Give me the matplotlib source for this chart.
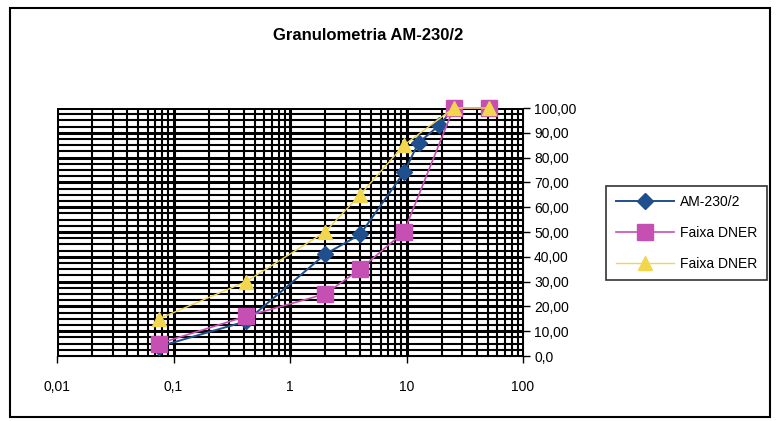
import matplotlib
matplotlib.use("Agg")
import matplotlib.pyplot as plt
from matplotlib.patches import Rectangle
from matplotlib.ticker import FixedLocator, NullFormatter

plt.rcParams['font.family'] = ['Liberation Sans', 'DejaVu Sans']

title = "Granulometria AM-230/2"

am_x = [0.075, 0.42, 2.0, 4.0, 9.5, 12.7, 19.1, 25.4]
am_y = [3.8, 14.0, 41.0, 49.0, 74.0, 86.0, 93.0, 100.0]

lo_x = [0.075, 0.42, 2.0, 4.0, 9.5, 25.4, 50.8]
lo_y = [5.0, 16.0, 25.0, 35.0, 50.0, 100.0, 100.0]

hi_x = [0.075, 0.42, 2.0, 4.0, 9.5, 25.4, 50.8]
hi_y = [15.0, 30.0, 50.0, 65.0, 85.0, 100.0, 100.0]

series_names = ["AM-230/2", "Faixa DNER", "Faixa DNER"]

x_ticks = [0.01, 0.1, 1, 10, 100]
x_labels = ["0,01", "0,1", "1", "10", "100"]
y_ticks = [0, 10, 20, 30, 40, 50, 60, 70, 80, 90, 100]
y_labels = ["0,0", "10,00", "20,00", "30,00", "40,00", "50,00",
            "60,00", "70,00", "80,00", "90,00", "100,00"]

fig = plt.figure(figsize=(7.76, 4.21), dpi=100)
fig.patches.append(Rectangle((10/776, 1-417/421), 760/776, 409/421,
                             transform=fig.transFigure, fill=False,
                             edgecolor='black', linewidth=1.5))

ax = fig.add_axes([57/776, 1-356/421, 466/776, 248/421])
ax.set_xscale('log')
ax.set_xlim(0.01, 100)
ax.set_ylim(0, 100)

ax.xaxis.set_major_locator(FixedLocator(x_ticks))
ax.set_xticklabels(x_labels, fontsize=10)
minor_x = [m * 10.0**e for e in range(-2, 2) for m in range(2, 10)]
ax.xaxis.set_minor_locator(FixedLocator(minor_x))
ax.xaxis.set_minor_formatter(NullFormatter())

ax.yaxis.set_major_locator(FixedLocator(y_ticks))
ax.set_yticklabels(y_labels, fontsize=10)
ax.yaxis.set_minor_locator(FixedLocator([v * 2.5 for v in range(41)]))
ax.yaxis.tick_right()

ax.grid(True, which='major', color='black', linewidth=2.2)
ax.grid(True, which='minor', color='black', linewidth=1.5)
ax.set_axisbelow(True)

for s in ['top', 'left']:
    ax.spines[s].set_visible(False)
ax.spines['right'].set_color('black')
ax.spines['bottom'].set_color('black')

ax.tick_params(axis='y', which='major', direction='out', length=5, width=1, pad=3)
ax.tick_params(axis='y', which='minor', length=0)
ax.tick_params(axis='x', which='major', direction='out', length=5, width=1, pad=12)
ax.tick_params(axis='x', which='minor', length=0)

ax.plot(am_x, am_y, color='#1f4f8c', linewidth=1.4, marker='D', markersize=8.5,
        markerfacecolor='#1f4f8c', markeredgecolor='#1f4f8c',
        label=series_names[0], clip_on=False, zorder=3)
ax.plot(lo_x, lo_y, color='#c64fb4', linewidth=1.2, marker='s', markersize=11,
        markerfacecolor='#c64fb4', markeredgecolor='#c64fb4',
        label=series_names[1], clip_on=False, zorder=4)
ax.plot(hi_x, hi_y, color='#f2d64e', linewidth=1.0, marker='^', markersize=10,
        markerfacecolor='#f2d64e', markeredgecolor='#f2d64e',
        label=series_names[2], clip_on=False, zorder=5)

fig.text(0.475, 1-35/421, title, ha='center', va='center',
         fontsize=12, fontweight='bold')

leg = fig.legend(loc='center left', bbox_to_anchor=(606/776, 1-233/421),
                 fontsize=10, frameon=True, fancybox=False, handlelength=4.2,
                 borderpad=0.7, labelspacing=1.2, handletextpad=0.4,
                 borderaxespad=0)
leg.get_frame().set_edgecolor('black')
leg.get_frame().set_linewidth(1.2)

fig.savefig("out.png", dpi=100)
